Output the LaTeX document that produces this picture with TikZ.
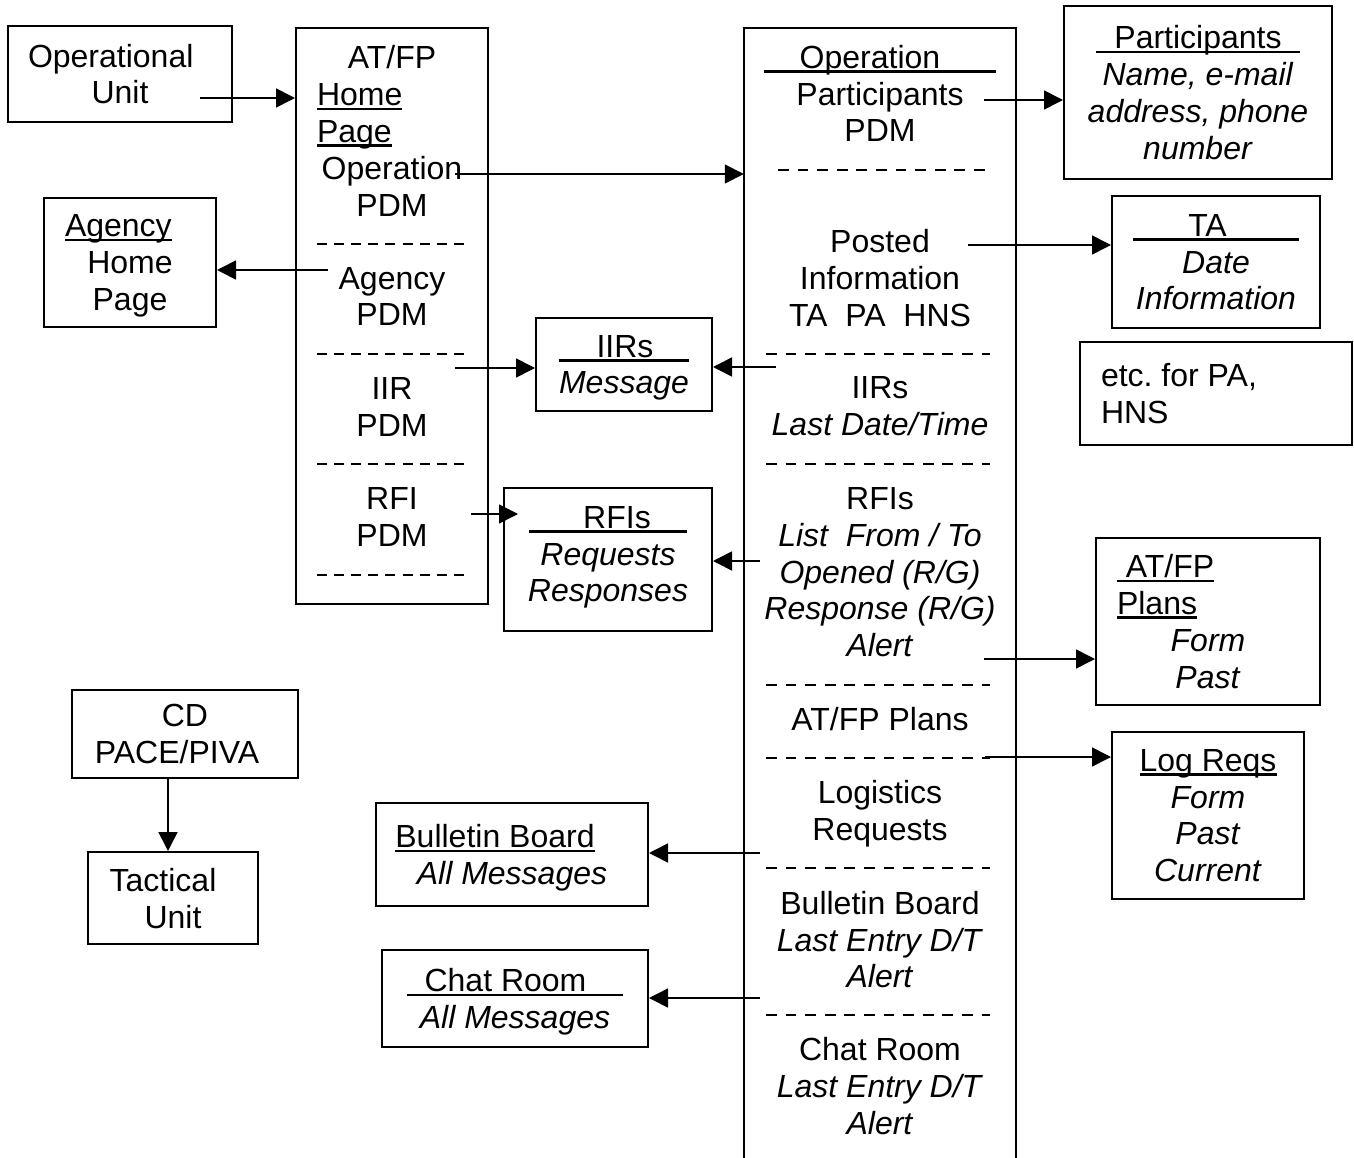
\documentclass[tikz,border=0pt]{standalone}
\usepackage{fontspec}
\setmainfont{Liberation Sans}
\usetikzlibrary{arrows.meta}
\frenchspacing

\newsavebox{\ulbox}
\newcommand{\ul}[1]{\sbox{\ulbox}{#1}\rlap{\rule[-4.5pt]{\wd\ulbox}{2.7pt}}\usebox{\ulbox}}

\begin{document}
\begin{tikzpicture}[
                x=1pt, y=-1pt,
                every node/.style={font=\fontsize{32}{36.8}\selectfont, text depth=0pt},
                box/.style={draw, line width=2pt, inner sep=0pt, align=center},
                txt/.style={inner sep=0pt, align=center},
                arrow/.style={-{Triangle[length=19pt, width=19pt]}, line width=1.6pt},
                sepline/.style={line width=2.4pt, dash pattern=on 10.7pt off 8.9pt},
                sepshort/.style={line width=2.4pt, dash pattern=on 10pt off 7.1pt}
            ]
                \useasboundingbox (0,0) rectangle (1354,1158);

                % left side
                \node[box, minimum width=224pt, minimum height=96pt] (opunit) at (120,74) {\makebox[184pt][l]{Operational}\\Unit};
                \node[box, minimum width=172pt, minimum height=129pt] (agency) at (130,262.5) {\makebox[130pt][l]{\ul{Agency}}\\Home\\Page};
                \node[box, minimum width=226pt, minimum height=88pt] (cd) at (185,734) {CD\\PACE/PIVA\hspace*{16pt}};
                \node[box, minimum width=170pt, minimum height=92pt] (tact) at (173,898) {Tactical\hspace*{20pt}\\Unit};

                % AT/FP home page column
                \node[box, minimum width=192pt, minimum height=576pt] (atfpcol) at (392,316) {};
                \node[txt] (homepg) at (392,131) {AT/FP\\\makebox[150pt][l]{\ul{Home}}\\\makebox[150pt][l]{\ul{Page}}\\Operation\\PDM};
                \node[txt] (agpdm) at (392,296.5) {Agency\\PDM};
                \node[txt] (iirpdm) at (392,407) {IIR\\PDM};
                \node[txt] (rfipdm) at (392,517) {RFI\\PDM};
                \draw[sepshort] (317,244) -- (467,244);
                \draw[sepshort] (317,354) -- (467,354);
                \draw[sepshort] (317,464) -- (467,464);
                \draw[sepshort] (317,575) -- (467,575);

                % middle boxes
                \node[box, minimum width=176pt, minimum height=93pt] (iirs) at (624,364.5) {\ul{\hspace*{38pt}IIRs\hspace*{36pt}}\\\textit{Message}};
                \node[box, minimum width=208pt, minimum height=143pt, text depth=11pt] (rfis) at (608,559.5) {\ul{\hspace*{54pt}RFIs\hspace*{36pt}}\\\textit{Requests}\\\textit{Responses}};
                \node[box, minimum width=272pt, minimum height=103pt] (bboard) at (512,854.5) {\ul{Bulletin Board}\hspace*{34pt}\\\textit{All Messages}};
                \node[box, minimum width=266pt, minimum height=97pt] (chat) at (515,998.5) {\ul{\hspace*{18pt}Chat Room\hspace*{37pt}}\\\textit{All Messages}};

                % operation column, open at the bottom
                \node[inner sep=0pt, minimum width=272pt, minimum height=1130pt] (opcol) at (880,593) {};
                \draw[line width=2pt] (opcol.south west) |- (opcol.north east) -- (opcol.south east);
                \node[txt] (oppart) at (880,93.5) {\ul{\hspace*{36pt}Operation\hspace*{56pt}}\\Participants\\PDM};
                \node[txt] (posted) at (880,278) {Posted\\Information\\TA~~PA~~HNS};
                \node[txt] (iirlast) at (880,406) {IIRs\\\textit{Last Date/Time}};
                \node[txt] (rfilist) at (880,572) {RFIs\\\textit{List~~From / To}\\\textit{Opened (R/G)}\\\textit{Response (R/G)}\\\textit{Alert}};
                \node[txt] (opplans) at (880,719) {AT/FP Plans};
                \node[txt] (logist) at (880,810.5) {Logistics\\Requests};
                \node[txt] (bblast) at (880,939.5) {Bulletin Board\\\textit{Last Entry D/T}\\\textit{Alert}};
                \node[txt] (chatlast) at (880,1086) {Chat Room\\\textit{Last Entry D/T}\\\textit{Alert}};
                \draw[sepline] (778,170) -- (988,170);
                \draw[sepline] (766,354) -- (990,354);
                \draw[sepline] (766,464) -- (990,464);
                \draw[sepline] (766,685) -- (990,685);
                \draw[sepline] (766,758) -- (990,758);
                \draw[sepline] (766,868) -- (990,868);
                \draw[sepline] (766,1015) -- (990,1015);

                % right side
                \node[box, minimum width=268pt, minimum height=173pt] (part) at (1198,92.5) {\ul{\hspace*{18pt}Participants\hspace*{18pt}}\\\textit{Name, e-mail}\\\textit{address, phone}\\\textit{number}};
                \node[box, minimum width=208pt, minimum height=132pt] (ta) at (1216,262) {\ul{\hspace*{55pt}TA\hspace*{72pt}}\\\textit{Date}\\\textit{Information}};
                \node[box, minimum width=272pt, minimum height=103pt] (etc) at (1216,393.5) {\makebox[230pt][l]{etc. for PA,}\\\makebox[230pt][l]{HNS}};
                \node[box, minimum width=224pt, minimum height=167pt] (plans) at (1208,621.5) {\makebox[182pt][l]{\ul{\ AT/FP}}\\\makebox[182pt][l]{\ul{Plans}}\\\textit{Form}\\\textit{Past}};
                \node[box, minimum width=192pt, minimum height=167pt] (logreq) at (1208,815.5) {\ul{Log Reqs}\\\textit{Form}\\\textit{Past}\\\textit{Current}};

                % arrows
                \coordinate (s-unit) at (200,98);
                \coordinate (s-op) at (455,174);
                \coordinate (s-ag) at (328,270);
                \coordinate (s-iir) at (455,368);
                \coordinate (s-rfi) at (471,514);
                \coordinate (s-iirs) at (776,367);
                \coordinate (s-rfis) at (760,561);
                \coordinate (s-part) at (984,100);
                \coordinate (s-ta) at (968,245);
                \coordinate (s-plans) at (984,659);
                \coordinate (s-log) at (985,757);
                \coordinate (s-bb) at (760,853);
                \coordinate (s-chat) at (760,998);
                \coordinate (s-cd) at (168,778);

                \draw[arrow] (s-unit) -- (s-unit -| atfpcol.west);
                \draw[arrow] (s-op) -- (s-op -| opcol.west);
                \draw[arrow] (s-ag) -- (s-ag -| agency.east);
                \draw[arrow] (s-iir) -- (s-iir -| iirs.west);
                \draw[arrow] (s-rfi) -- ([xshift=15pt]s-rfi -| rfis.west);
                \draw[arrow] (s-iirs) -- (s-iirs -| iirs.east);
                \draw[arrow] (s-rfis) -- (s-rfis -| rfis.east);
                \draw[arrow] (s-part) -- (s-part -| part.west);
                \draw[arrow] (s-ta) -- (s-ta -| ta.west);
                \draw[arrow] (s-plans) -- (s-plans -| plans.west);
                \draw[arrow] (s-log) -- (s-log -| logreq.west);
                \draw[arrow] (s-bb) -- (s-bb -| bboard.east);
                \draw[arrow] (s-chat) -- (s-chat -| chat.east);
                \draw[arrow] (s-cd) -- (s-cd |- tact.north);
            \end{tikzpicture}
\end{document}
